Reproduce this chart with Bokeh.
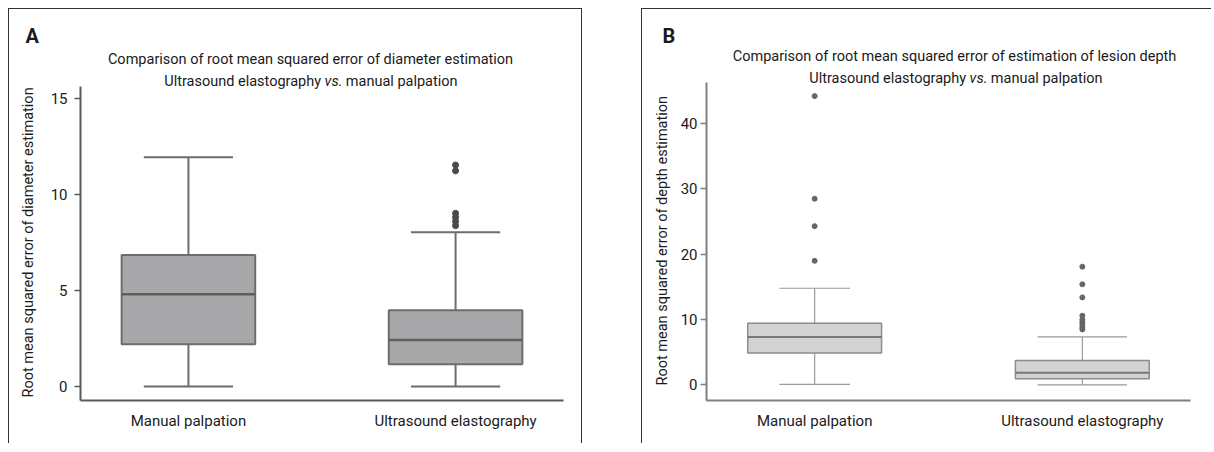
from bokeh.plotting import figure
from bokeh.models import Range1d, FixedTicker, Label, Title
from bokeh.layouts import row
from bokeh.embed import file_html
from bokeh.resources import INLINE

FONT = "Roboto"
FS = "15px"
TFS = "14.5px"
TXT = "#1a1a1a"

categories = ["Manual palpation", "Ultrasound elastography"]

# Panel A: RMSE of diameter estimation
a_lower = [0.0, 0.0]
a_q1 = [2.2, 1.16]
a_median = [4.81, 2.43]
a_q3 = [6.86, 3.98]
a_upper = [11.95, 8.05]
a_out_manual = []
a_out_us = [11.55, 11.25, 9.03, 8.82, 8.61, 8.39]
a_yticks = [0, 5, 10, 15]

# Panel B: RMSE of depth estimation
b_lower = [0.1, 0.0]
b_q1 = [4.9, 0.96]
b_median = [7.33, 1.87]
b_q3 = [9.45, 3.73]
b_upper = [14.8, 7.35]
b_out_manual = [44.2, 28.5, 24.3, 19.0]
b_out_us = [18.1, 15.4, 13.4, 10.6, 10.0, 9.6, 9.2, 8.8, 8.5]
b_yticks = [0, 10, 20, 30, 40]


def make_panel(letter, line1, ylabel, lower, q1, med, q3, upper, outs, yticks,
               y_range, y_bounds, width, mb, style, border_css, margin, tpos):
    p = figure(width=width, height=435, x_range=Range1d(0.596, 2.404), y_range=Range1d(*y_range),
               output_backend="svg", toolbar_location=None,
               min_border_left=mb[0], min_border_right=mb[1], min_border_top=mb[2], min_border_bottom=mb[3])
    p.styles = border_css
    p.margin = margin
    p.xgrid.visible = False
    p.ygrid.visible = False
    p.outline_line_color = None
    p.background_fill_color = "white"
    p.border_fill_color = "white"

    xs = [i + 1 for i in range(len(categories))]
    bw = 0.25
    cw = style["caps"]

    p.segment(xs, q3, xs, upper, line_color=style["whisker"], line_width=style["wlw"])
    p.segment(xs, q1, xs, lower, line_color=style["whisker"], line_width=style["wlw"])
    p.segment([x - c for x, c in zip(xs, cw)], upper, [x + c for x, c in zip(xs, cw)], upper,
              line_color=style["whisker"], line_width=style["wlw"])
    p.segment([x - c for x, c in zip(xs, cw)], lower, [x + c for x, c in zip(xs, cw)], lower,
              line_color=style["whisker"], line_width=style["wlw"])
    p.vbar(x=xs, width=2 * bw, bottom=q1, top=q3, fill_color=style["fill"],
           line_color=style["edge"], line_width=style["elw"])
    p.segment([x - bw for x in xs], med, [x + bw for x in xs], med,
              line_color=style["median"], line_width=style["mlw"])
    ox, oy = [], []
    for i, o in enumerate(outs):
        ox += [xs[i]] * len(o)
        oy += list(o)
    p.scatter(ox, oy, marker="circle", size=style["osize"], fill_color=style["out"],
              line_color=style["out"])

    p.xaxis.ticker = FixedTicker(ticks=xs)
    p.xaxis.major_label_overrides = {x: c for x, c in zip(xs, categories)}
    p.xaxis.major_tick_line_color = None
    p.xaxis.minor_tick_line_color = None
    p.xaxis.major_label_standoff = 5
    p.yaxis.ticker = FixedTicker(ticks=yticks)
    p.yaxis.bounds = y_bounds
    p.yaxis.minor_tick_line_color = None
    p.yaxis.major_tick_in = 0
    p.yaxis.major_tick_out = 6
    p.yaxis.major_tick_line_color = style["axis"]
    p.yaxis.major_tick_line_width = 1.5
    p.yaxis.major_label_standoff = style["ystandoff"]
    for ax in (p.xaxis[0], p.yaxis[0]):
        ax.axis_line_color = style["axis"]
        ax.axis_line_width = 2
        ax.major_label_text_font = FONT
        ax.major_label_text_font_size = FS
        ax.major_label_text_color = TXT

    # y-axis title (a left Title, starting near the bottom of the drawn axis)
    p.add_layout(Title(text=ylabel, align="left", vertical_align="middle",
                       offset=tpos["yoff"], standoff=tpos["ystand"],
                       text_font=FONT, text_font_size=TFS, text_font_style="normal",
                       text_color=TXT), "left")
    # panel letter
    p.add_layout(Title(text=letter, align="left", offset=tpos["letter"], standoff=0,
                       text_font=FONT, text_font_size="20px", text_font_style="bold",
                       text_color=TXT), "above")
    # two-line heading (screen units from frame bottom-left)
    c1, c2, y1, y2 = tpos["c1"], tpos["c2"], tpos["y1"], tpos["y2"]
    p.add_layout(Label(x=c1, y=y1, x_units="screen", y_units="screen", text=line1,
                       text_font=FONT, text_font_size=TFS, text_color=TXT,
                       text_align="center", text_baseline="alphabetic"))
    p.add_layout(Label(x=c2 + 2.6, y=y2, x_units="screen", y_units="screen",
                       text="Ultrasound elastography", text_font=FONT, text_font_size=TFS,
                       text_color=TXT, text_align="right", text_baseline="alphabetic"))
    p.add_layout(Label(x=c2 + 15, y=y2, x_units="screen", y_units="screen", text="vs.",
                       text_font=FONT, text_font_size=TFS, text_font_style="italic",
                       text_color=TXT, text_align="center", text_baseline="alphabetic"))
    p.add_layout(Label(x=c2 + 27.3, y=y2, x_units="screen", y_units="screen",
                       text="manual palpation", text_font=FONT, text_font_size=TFS,
                       text_color=TXT, text_align="left", text_baseline="alphabetic"))
    return p


style_a = dict(fill="#a8a8aa", edge="#6d6d6d", elw=2, median="#5e5e5e", mlw=2.5,
               whisker="#6d6d6d", wlw=2, out="#4a4a4a", osize=6, axis="#5a5a5a",
               caps=[0.167, 0.167], ystandoff=7)
style_b = dict(fill="#d3d3d3", edge="#8c8c8c", elw=1.5, median="#777777", mlw=2,
               whisker="#9a9a9a", wlw=1.2, out="#666666", osize=5, axis="#808080",
               caps=[0.132, 0.167], ystandoff=3)

pa = make_panel("A", "Comparison of root mean squared error of diameter estimation",
                "Root mean squared error of diameter estimation",
                a_lower, a_q1, a_median, a_q3, a_upper, [a_out_manual, a_out_us], a_yticks,
                (-0.73, 17.68), (-0.73, 15.65), 574, (71, 20, 38, 44), style_a,
                {"border-top": "1px solid #333", "border-left": "1px solid #333",
                 "border-right": "1px solid #333"}, (8, 0, 0, 8),
                dict(letter=-55, c1=230, c2=238, y1=341, y2=319, yoff=3, ystand=19))
pb = make_panel("B", "Comparison of root mean squared error of estimation of lesion depth",
                "Root mean squared error of depth estimation",
                b_lower, b_q1, b_median, b_q3, b_upper, [b_out_manual, b_out_us], b_yticks,
                (-2.38, 51.64), (-2.38, 46.33), 570, (64, 22, 38, 41), style_b,
                {"border-top": "1px solid #333", "border-left": "1px solid #333"}, (8, 0, 0, 59),
                dict(letter=-44, c1=248, c2=257, y1=344, y2=322, yoff=15, ystand=12))

layout = row(pa, pb)
open("out.html", "w").write(file_html(layout, INLINE))
